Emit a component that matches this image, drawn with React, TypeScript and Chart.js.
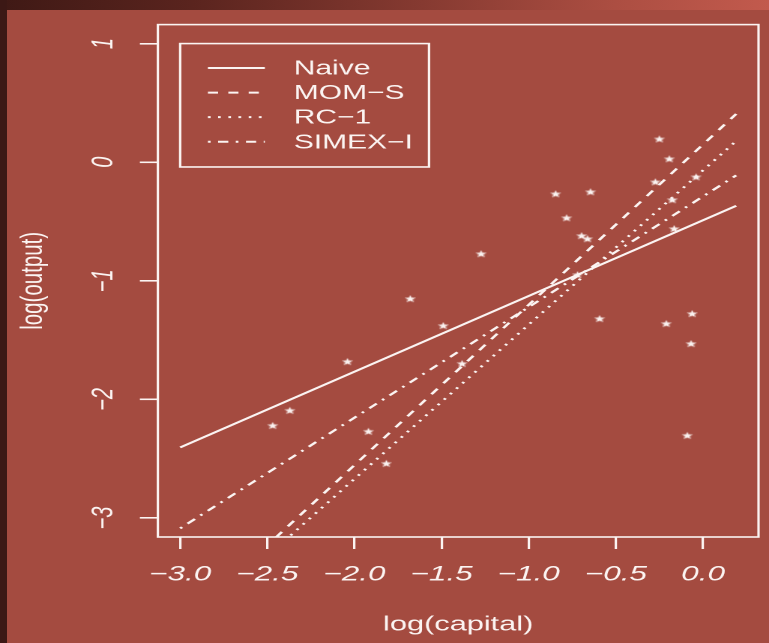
import React, { useEffect, useRef } from "react";
import { Chart, registerables } from "chart.js";

Chart.register(...registerables);

// ---- data ----
const capitalLog = [
  -2.469, -2.371, -2.04, -1.68, -1.491, -1.274, -1.92, -1.817, -1.383,
  -0.251, -0.194, -0.274, -0.04, -0.177, -0.166, -0.846, -0.646, -0.783,
  -0.697, -0.663, -0.72, -0.594, -0.211, -0.063, -0.069, -0.091,
];
const outputLog = [
  -2.22, -2.093, -1.681, -1.151, -1.378, -0.772, -2.27, -2.54, -1.698,
  0.196, 0.028, -0.166, -0.124, -0.317, -0.561, -0.267, -0.25, -0.469,
  -0.62, -0.646, -0.949, -1.319, -1.361, -1.277, -1.53, -2.304,
];
const fitX = [-3.0, 0.19];
const naiveFit = [-2.405, -0.368];
const momsFit = [-3.906, 0.407];
const rc1Fit = [-3.971, 0.179];
const simexFit = [-3.087, -0.111];
const seriesLabels = ["Naive", "MOM\u2212S", "RC\u22121", "SIMEX\u2212I"];
const xTickValues = [-3, -2.5, -2, -1.5, -1, -0.5, 0];
const yTickValues = [-3, -2, -1, 0, 1];
const xLimits = [-3.128, 0.318];
const yLimits = [-3.16, 1.16];
const legendCorner = [-3, 1];

const FONT = "'Liberation Sans', Arial, Helvetica, sans-serif";
const INK = "#fbf4f2";
const NATIVE_W = 513;
const H = 643;
const STRETCH = 769 / NATIVE_W;

function fmt(v: number, d: number) {
  const s = Math.abs(v).toFixed(d);
  return (v < -1e-9 ? "\u2212" : "") + s;
}

function makeStar(color: string) {
  const c = document.createElement("canvas");
  c.width = 9;
  c.height = 9;
  const g = c.getContext("2d")!;
  g.fillStyle = color;
  g.beginPath();
  for (let i = 0; i < 10; i++) {
    const r = i % 2 === 0 ? 3.9 : 1.7;
    const a = -Math.PI / 2 + (i * Math.PI) / 5;
    g.lineTo(4.5 + r * Math.cos(a), 4.8 + r * Math.sin(a));
  }
  g.closePath();
  g.fill();
  return c;
}

export default function App() {
  const ref = useRef<HTMLCanvasElement>(null);

  useEffect(() => {
    const canvas = ref.current!;
    const star = makeStar(INK);
    const dashes = [[], [6.8, 6.8], [1.8, 5.0], [1.8, 5.0, 6.8, 5.0]];
    const fits = [naiveFit, momsFit, rc1Fit, simexFit];

    const lineSets = fits.map((f, i) => ({
      type: "line",
      label: seriesLabels[i],
      data: fitX.map((x, j) => ({ x, y: f[j] })),
      borderColor: INK,
      borderWidth: 2,
      borderDash: dashes[i],
      borderCapStyle: "butt",
      pointRadius: 0,
      fill: false,
      tension: 0,
    }));

    const points = {
      type: "scatter",
      label: "data",
      data: capitalLog.map((x, i) => ({ x, y: outputLog[i] })),
      pointStyle: star,
      pointRadius: 4,
      backgroundColor: INK,
      borderColor: INK,
      showLine: false,
    };

    const framePlugin = {
      id: "frame",
      afterDraw(chart: any) {
        const { ctx, chartArea: a } = chart;
        ctx.save();
        ctx.strokeStyle = INK;
        ctx.lineWidth = 1.6;
        ctx.strokeRect(a.left, a.top, a.right - a.left, a.bottom - a.top);
        ctx.restore();
      },
    };

    const legendPlugin = {
      id: "rlegend",
      afterDraw(chart: any) {
        const { ctx } = chart;
        const xs = chart.scales.x;
        const ys = chart.scales.y;
        const left = xs.getPixelForValue(legendCorner[0]);
        const top = ys.getPixelForValue(legendCorner[1]);
        ctx.save();
        ctx.strokeStyle = INK;
        ctx.fillStyle = INK;
        ctx.lineWidth = 1.6;
        ctx.strokeRect(left, top, 166, 123.4);
        ctx.font = `20px ${FONT}`;
        ctx.textBaseline = "middle";
        ctx.textAlign = "left";
        lineSets.forEach((ds: any, i: number) => {
          const cy = top + 24.4 + i * 24.6;
          ctx.lineWidth = 2;
          ctx.setLineDash(ds.borderDash);
          ctx.beginPath();
          ctx.moveTo(left + 18.5, cy);
          ctx.lineTo(left + 56.5, cy);
          ctx.stroke();
          ctx.setLineDash([]);
          ctx.fillText(ds.label, left + 75.8, cy + 1);
        });
        ctx.restore();
      },
    };

    const chart = new Chart(canvas, {
      type: "scatter",
      data: { datasets: [points, ...lineSets] as any },
      options: {
        animation: false,
        responsive: false,
        devicePixelRatio: 2,
        layout: { padding: { left: 0, top: 24, right: 7, bottom: 0 } },
        plugins: { legend: { display: false }, tooltip: { enabled: false } },
        scales: {
          x: {
            type: "linear",
            min: xLimits[0],
            max: xLimits[1],
            afterBuildTicks: (s: any) => {
              s.ticks = xTickValues.map((v) => ({ value: v }));
            },
            afterFit: (s: any) => {
              s.height = 106;
            },
            ticks: {
              color: INK,
              font: { family: FONT, size: 21, style: "italic" },
              padding: 13,
              autoSkip: false,
              minRotation: 0,
              maxRotation: 0,
              callback: (v: any) => fmt(Number(v), 1),
            },
            grid: {
              display: true,
              drawOnChartArea: false,
              drawTicks: true,
              tickLength: 12,
              color: INK,
              lineWidth: 1.6,
            },
            border: { display: false },
            title: {
              display: true,
              text: "log(capital)",
              color: INK,
              font: { family: FONT, size: 20.5 },
              padding: { top: 0, bottom: 6 },
            },
          },
          y: {
            type: "linear",
            min: yLimits[0],
            max: yLimits[1],
            afterBuildTicks: (s: any) => {
              s.ticks = yTickValues.map((v) => ({ value: v }));
            },
            afterFit: (s: any) => {
              s.width = 105.3;
            },
            ticks: {
              color: INK,
              font: { family: FONT, size: 20, style: "italic" },
              padding: 12.6,
              autoSkip: false,
              minRotation: 90,
              maxRotation: 90,
              crossAlign: "center",
              callback: (v: any) => fmt(Number(v), 0),
            },
            grid: {
              display: true,
              drawOnChartArea: false,
              drawTicks: true,
              tickLength: 12,
              color: INK,
              lineWidth: 1.6,
            },
            border: { display: false },
            title: {
              display: true,
              text: "log(output)",
              color: INK,
              font: { family: FONT, size: 20.5 },
              padding: { top: 10, bottom: 0 },
            },
          },
        },
      } as any,
      plugins: [framePlugin, legendPlugin],
    });

    return () => chart.destroy();
  }, []);

  return (
    <div
      style={{
        position: "absolute",
        left: 0,
        top: 0,
        width: 769,
        height: H,
        overflow: "hidden",
        background: "#a44b40",
      }}
    >
      <div
        style={{
          position: "absolute",
          left: 0,
          top: 0,
          width: 769,
          height: 10,
          background:
            "linear-gradient(90deg, #3f1915 0%, #5a241e 25%, #863a31 55%, #ac4e42 80%, #c25a4d 100%)",
        }}
      />
      <div
        style={{
          position: "absolute",
          left: 0,
          top: 0,
          width: 7,
          height: H,
          background: "#3c1815",
        }}
      />
      <div
        style={{
          position: "absolute",
          left: 0,
          top: 0,
          width: NATIVE_W,
          height: H,
          transform: `scaleX(${STRETCH})`,
          transformOrigin: "0 0",
        }}
      >
        <canvas
          ref={ref}
          width={NATIVE_W}
          height={H}
          style={{ display: "block", width: NATIVE_W + "px", height: H + "px" }}
        />
      </div>
    </div>
  );
}
